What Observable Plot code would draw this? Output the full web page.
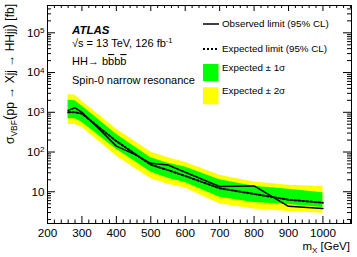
<!DOCTYPE html>
<html><head><meta charset="utf-8">
<script src="https://cdn.jsdelivr.net/npm/d3@7"></script>
<script src="https://cdn.jsdelivr.net/npm/@observablehq/plot@0.6"></script>
<style>body{margin:0;background:#fff} svg{display:block}</style>
</head><body><div id="chart"></div>
<script>
// Resonance mass points (GeV)
const mass     = [260, 280, 300, 350, 400, 450, 500, 550, 600, 700, 800, 900, 1000];
// Observed / expected 95% CL limits (fb)
const observed = [1120, 1300, 1000, 380, 141, 90, 52, 47, 31, 13.6, 14, 4.3, 3.8];
const expected = [1000, 1000, 920, 416, 188, 95, 48, 35, 25, 12.2, 8.8, 6.3, 5.3];
const plus2    = [2800, 2700, 1900, 850, 380, 195, 100, 72, 55, 26, 17.5, 14.5, 13.5];
const plus1    = [2000, 1950, 1450, 637, 280, 142, 72, 52, 42, 20, 13.8, 11.5, 9.5];
const minus1   = [690, 690, 560, 257, 118, 61, 31.5, 22, 17, 7.3, 5.4, 4.8, 4.0];
const minus2   = [500, 490, 420, 183, 80, 41, 21.5, 15.5, 12.5, 5.0, 3.7, 3.2, 2.9];
// Tick labels
const xTickLabels = [200, 300, 400, 500, 600, 700, 800, 900, 1000];
const yTickValues = [10, 100, 1000, 10000, 100000];
const yTickLabels = ["10", "10^2", "10^3", "10^4", "10^5"];

const data = mass.map((m, i) => ({m, obs: observed[i], exp: expected[i], p1: plus1[i], m1: minus1[i], p2: plus2[i], m2: minus2[i]}));

const W = 357, H = 257, mL = 47, mR = 6, mT = 5, mB = 34;
const iw = W - mL - mR, ih = H - mT - mB;
const xDomain = [200, 1083], yDomain = [1.59, 4.87e5];

const xMajor = xTickLabels;
const xMinor = d3.range(200, 1083, 20).filter(v => v % 100 !== 0);
const yMajor = yTickValues;
const yMinor = [];
for (let k = 0; k <= 5; k++) for (let j = 2; j <= 9; j++) { const v = j * 10 ** k; if (v >= yDomain[0] && v <= yDomain[1]) yMinor.push(v); }

const chart = Plot.plot({
  width: W, height: H,
  marginLeft: mL, marginRight: mR, marginTop: mT, marginBottom: mB,
  style: {fontFamily: "'Liberation Sans', Arial, sans-serif", fontSize: "11.7px", color: "black", background: "white"},
  x: {domain: xDomain},
  y: {type: "log", domain: yDomain},
  marks: [
    Plot.areaY(data, {x: "m", y1: "m2", y2: "p2", fill: "#ffff00"}),
    Plot.areaY(data, {x: "m", y1: "m1", y2: "p1", fill: "#00ff00"}),
    Plot.line(data, {x: "m", y: "exp", stroke: "black", strokeWidth: 2, strokeDasharray: "2,2"}),
    Plot.line(data, {x: "m", y: "obs", stroke: "black", strokeWidth: 1.5}),
    Plot.tickX(xMajor, {x: d => d, insetTop: ih - 7, stroke: "black"}),
    Plot.tickX(xMinor, {x: d => d, insetTop: ih - 3.5, stroke: "black"}),
    Plot.tickX(xMajor, {x: d => d, insetBottom: ih - 6, stroke: "black"}),
    Plot.tickX(xMinor, {x: d => d, insetBottom: ih - 3, stroke: "black"}),
    Plot.tickY(yMajor, {y: d => d, insetRight: iw - 8, stroke: "black"}),
    Plot.tickY(yMinor, {y: d => d, insetRight: iw - 4, stroke: "black"}),
    Plot.tickY(yMajor, {y: d => d, insetLeft: iw - 8, stroke: "black"}),
    Plot.tickY(yMinor, {y: d => d, insetLeft: iw - 4, stroke: "black"}),
    Plot.frame({stroke: "black"}),
    Plot.axisX(xTickLabels, {tickSize: 0, tickPadding: 5, label: null, tickFormat: d => String(d)}),
    Plot.axisY(yTickValues, {tickSize: 0, tickPadding: 3, label: null, tickFormat: d => yTickLabels[yTickValues.indexOf(d)]})
  ]
});
document.getElementById("chart").appendChild(chart);

const svg = d3.select(chart);
// superscripts on y tick labels
svg.selectAll('g[aria-label="y-axis tick label"] text').each(function () {
  const t = this.textContent, k = t.indexOf("^");
  if (k >= 0) {
    const s = d3.select(this);
    s.text(t.slice(0, k));
    s.append("tspan").attr("dy", "-0.42em").attr("font-size", "8px").text(t.slice(k + 1));
  }
});

const g = svg.append("g").attr("fill", "black").attr("text-anchor", "start").attr("font-family", "'Liberation Sans', Arial, sans-serif");
// Left annotations
g.append("text").attr("x", 72).attr("y", 33.5).attr("font-size", 11.5).attr("font-weight", "bold").attr("font-style", "italic").text("ATLAS");
const t2 = g.append("text").attr("x", 72).attr("y", 47).attr("font-size", 11);
t2.append("tspan").text("√s = 13 TeV, 126 fb");
t2.append("tspan").attr("dy", -4).attr("font-size", 7.5).text("-1");
const t3 = g.append("text").attr("x", 72).attr("y", 65).attr("font-size", 11);
t3.append("tspan").text("HH→ b");
t3.append("tspan").attr("text-decoration", "overline").text("b");
t3.append("tspan").text("b");
t3.append("tspan").attr("text-decoration", "overline").text("b");
g.append("text").attr("x", 72).attr("y", 84).attr("font-size", 11).text("Spin-0 narrow resonance");

// Legend
const lg = g.append("g").attr("font-size", 9.8);
lg.append("line").attr("x1", 203).attr("x2", 219).attr("y1", 24).attr("y2", 24).attr("stroke", "black").attr("stroke-width", 1.5);
lg.append("text").attr("x", 222).attr("y", 27.4).text("Observed limit (95% CL)");
lg.append("line").attr("x1", 203).attr("x2", 219).attr("y1", 49).attr("y2", 49).attr("stroke", "black").attr("stroke-width", 2).attr("stroke-dasharray", "2,2");
lg.append("text").attr("x", 222).attr("y", 52.4).text("Expected limit (95% CL)");
lg.append("rect").attr("x", 203).attr("y", 64).attr("width", 15.5).attr("height", 17).attr("fill", "#00ff00");
lg.append("text").attr("x", 222).attr("y", 71.2).text("Expected ± 1σ");
lg.append("rect").attr("x", 203).attr("y", 87.3).attr("width", 15.5).attr("height", 17).attr("fill", "#ffff00");
lg.append("text").attr("x", 222).attr("y", 94.3).text("Expected ± 2σ");

// Axis titles
const xt = g.append("text").attr("x", 350).attr("y", 249.5).attr("font-size", 11.5).attr("text-anchor", "end");
xt.append("tspan").text("m");
xt.append("tspan").attr("dy", 3).attr("font-size", 8).text("X");
xt.append("tspan").attr("dy", -3).text(" [GeV]");

const yt = g.append("text").attr("transform", "translate(13.5,4) rotate(-90)").attr("font-size", 12).attr("text-anchor", "end");
yt.append("tspan").text("σ");
yt.append("tspan").attr("dy", 3).attr("font-size", 8.5).text("VBF");
yt.append("tspan").attr("dy", -3).attr("font-size", 14).text("(");
yt.append("tspan").text("pp → Xjj → HHjj");
yt.append("tspan").attr("font-size", 14).text(")");
yt.append("tspan").text(" [fb]");
</script>
</body></html>
